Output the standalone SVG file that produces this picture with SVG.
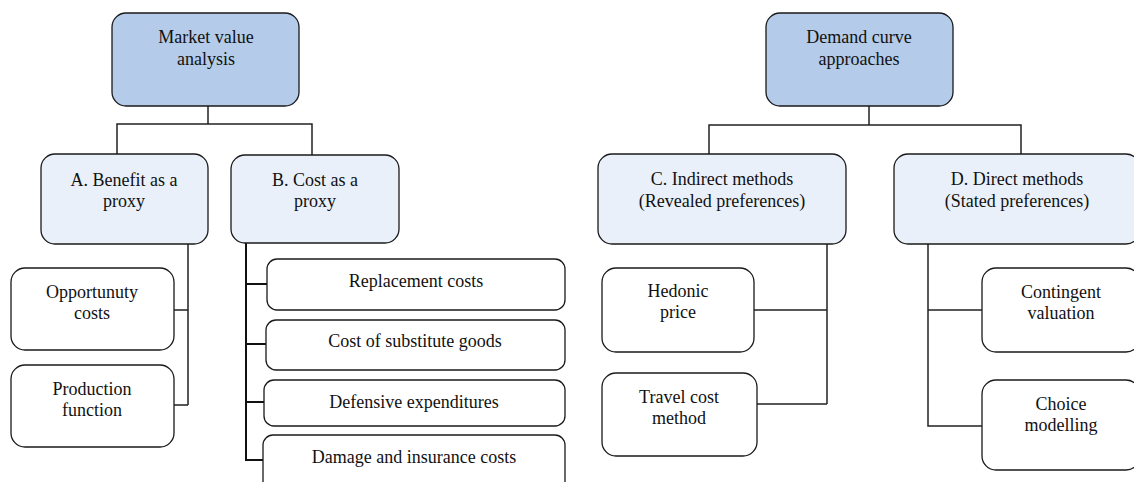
<svg xmlns="http://www.w3.org/2000/svg" width="1134" height="482" viewBox="0 0 1134 482">
<style>
.top{fill:#b4cbe9;stroke:#1a1a1a;stroke-width:1.3}
.mid{fill:#e9f0f9;stroke:#1a1a1a;stroke-width:1.3}
.leaf{fill:#ffffff;stroke:#1a1a1a;stroke-width:1.3}
text{font-family:'Liberation Serif','Tinos','DejaVu Serif',serif;font-size:18px;fill:#111;text-anchor:middle}
.c{fill:none;stroke:#222;stroke-width:1.5}
.cb{fill:none;stroke:#111;stroke-width:2}
</style>
<rect x="0" y="0" width="1134" height="482" fill="#ffffff"/>
<g id="connectors">
<path class="c" d="M208 106V124M117 154V124H312V155"/>
<path class="c" d="M188 244V405M174 310H188M174 405H188"/>
<path class="cb" d="M246 243V460M246 284H267M246 344H266M246 402H264M245 460H263"/>
<path class="c" d="M869 106V125M709 154V125H1021V154"/>
<path class="c" d="M827 244V404M754 310H827M757 404H827"/>
<path class="c" d="M928 244V426H982M928 310H982"/>
</g>
<g id="market-value">
<rect class="top" x="112" y="13" width="187" height="93" rx="14"/>
<text x="206" y="43" font-family="Liberation Serif">Market value</text>
<text x="206" y="65" font-family="Liberation Serif">analysis</text>
</g>
<g id="benefit-proxy">
<rect class="mid" x="41" y="154" width="167" height="90" rx="14"/>
<text x="124" y="186">A. Benefit as a</text>
<text x="124" y="207">proxy</text>
</g>
<g id="cost-proxy">
<rect class="mid" x="231" y="155" width="168" height="88" rx="14"/>
<text x="315" y="186">B. Cost as a</text>
<text x="315" y="207">proxy</text>
</g>
<g id="opportunity">
<rect class="leaf" x="11" y="268" width="163" height="82" rx="14"/>
<text x="92" y="298">Opportunuty</text>
<text x="92" y="319">costs</text>
</g>
<g id="production">
<rect class="leaf" x="11" y="365" width="163" height="82" rx="14"/>
<text x="92" y="395">Production</text>
<text x="92" y="416">function</text>
</g>
<g id="replacement">
<rect class="leaf" x="267" y="259" width="298" height="51" rx="10"/>
<text x="416" y="287">Replacement costs</text>
</g>
<g id="substitute">
<rect class="leaf" x="266" y="320" width="299" height="50" rx="10"/>
<text x="415" y="347">Cost of substitute goods</text>
</g>
<g id="defensive">
<rect class="leaf" x="264" y="380" width="301" height="46" rx="10"/>
<text x="414" y="408">Defensive expenditures</text>
</g>
<g id="damage">
<rect class="leaf" x="263" y="435" width="302" height="60" rx="10"/>
<text x="414" y="463">Damage and insurance costs</text>
</g>
<g id="demand-curve">
<rect class="top" x="766" y="13" width="187" height="93" rx="14"/>
<text x="859" y="43">Demand curve</text>
<text x="859" y="65">approaches</text>
</g>
<g id="indirect">
<rect class="mid" x="598" y="154" width="248" height="90" rx="14"/>
<text x="722" y="185">C. Indirect methods</text>
<text x="722" y="207">(Revealed preferences)</text>
</g>
<g id="direct">
<rect class="mid" x="894" y="154" width="246" height="90" rx="14"/>
<text x="1017" y="185">D. Direct methods</text>
<text x="1017" y="207">(Stated preferences)</text>
</g>
<g id="hedonic">
<rect class="leaf" x="602" y="268" width="152" height="84" rx="14"/>
<text x="678" y="297">Hedonic</text>
<text x="678" y="318">price</text>
</g>
<g id="travel">
<rect class="leaf" x="602" y="373" width="155" height="83" rx="14"/>
<text x="679" y="403">Travel cost</text>
<text x="679" y="424">method</text>
</g>
<g id="contingent">
<rect class="leaf" x="982" y="268" width="158" height="84" rx="14"/>
<text x="1061" y="298">Contingent</text>
<text x="1061" y="319">valuation</text>
</g>
<g id="choice">
<rect class="leaf" x="982" y="380" width="158" height="90" rx="14"/>
<text x="1061" y="410">Choice</text>
<text x="1061" y="431">modelling</text>
</g>
</svg>
